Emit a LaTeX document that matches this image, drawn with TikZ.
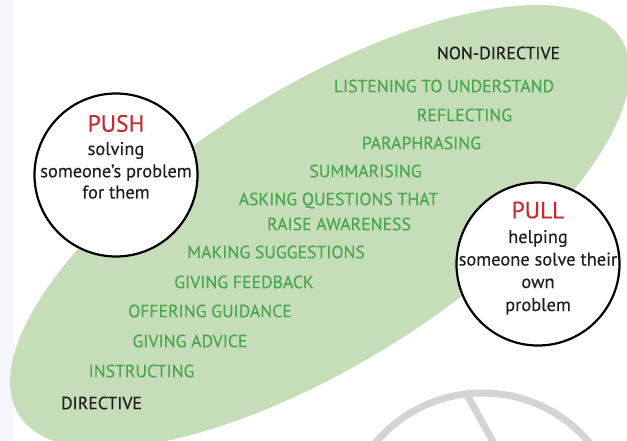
\documentclass[tikz,border=0pt]{standalone}
\usepackage{fontspec}
\setmainfont{PT Sans}
\newfontfamily\midface{PT Sans}[FakeBold=0.25]
\definecolor{leaf}{HTML}{C6DDB9}
\definecolor{leaftext}{HTML}{4CA64F}
\definecolor{strip}{HTML}{F4F6FB}
\definecolor{pushred}{HTML}{C8292E}
\definecolor{arcgrey}{HTML}{D4D4D4}
\definecolor{ink}{HTML}{1E1E1E}
\tikzset{
  item/.style={anchor=base, text=leaftext, inner sep=0pt, font=\midface\fontsize{17.7}{20}\selectfont},
  pole/.style={anchor=base, text=ink, inner sep=0pt, font=\midface\fontsize{17.7}{20}\selectfont},
  ring/.style={circle, draw=black, line width=2.2pt, fill=white, minimum size=163pt, inner sep=0pt},
  head/.style={anchor=base, text=pushred, inner sep=0pt, font=\midface\fontsize{23.5}{26}\selectfont},
  body/.style={anchor=base, text=ink, inner sep=0pt, font=\midface\fontsize{18.4}{20}\selectfont},
}
\begin{document}
\begin{tikzpicture}[x=1pt,y=-1pt]
\useasboundingbox (0,0) rectangle (627,441);
\fill[white] (0,0) rectangle (627,441);
\fill[strip] (0,0) rectangle (14,441);
\begin{scope}
\clip (0,0) rectangle (627,441);
\fill[leaf, rotate around={32:(319.9,226.6)}] (319.9,226.6) ellipse [x radius=355, y radius=138];
\draw[arcgrey, line width=7pt] (482.5,533) circle [radius=140];
\coordinate (spokeA) at (465,391);
\coordinate (spokeB) at (502,458);
\draw[arcgrey, line width=7pt] (spokeA) -- (spokeB);
\end{scope}

\node[pole] (nondir) at (498.5,59.2) {NON-DIRECTIVE};
\node[item] (listen) at (444,92.2) {LISTENING TO UNDERSTAND};
\node[item] (reflect) at (464.5,121.2) {REFLECTING};
\node[item] (para) at (421.5,149.2) {PARAPHRASING};
\node[item] (summ) at (365.5,177.2) {SUMMARISING};
\node[item] (ask1) at (338.5,205.2) {ASKING QUESTIONS THAT};
\node[item] (ask2) at (339,230.2) {RAISE AWARENESS};
\node[item] (sugg) at (276,258.2) {MAKING SUGGESTIONS};
\node[item] (feed) at (244,288.2) {GIVING FEEDBACK};
\node[item] (guide) at (210,317.2) {OFFERING GUIDANCE};
\node[item] (advice) at (190,347.2) {GIVING ADVICE};
\node[item] (instr) at (141.5,377.2) {INSTRUCTING};
\node[pole] (dir) at (101.5,409.2) {DIRECTIVE};

\node[ring] (push) at (116,175) {};
\node[head] (pushT) at (116,131.7) {PUSH};
\node[body] (push1) at (116,155) {solving};
\node[body] (push2) at (116,177.3) {someone’s problem};
\node[body] (push3) at (116,198.5) {for them};

\node[ring] (pull) at (538,264) {};
\node[head] (pullT) at (538,218.3) {PULL};
\node[body] (pull1) at (538,243) {helping};
\node[body] (pull2) at (538,265.5) {someone solve their};
\node[body] (pull3) at (538,288) {own};
\node[body] (pull4) at (538,311) {problem};
\end{tikzpicture}
\end{document}
